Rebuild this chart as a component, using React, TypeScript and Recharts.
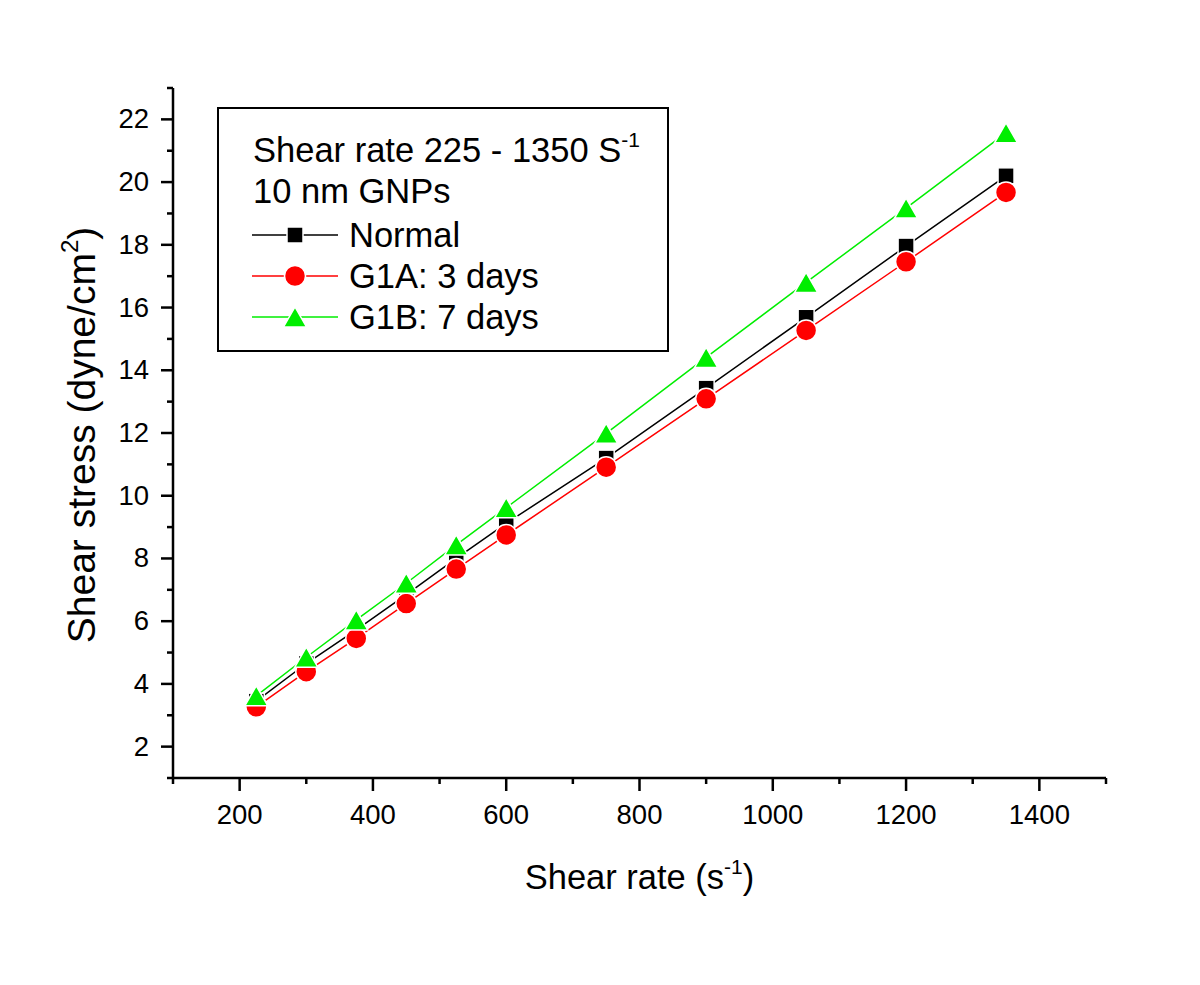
import { CartesianGrid, Customized, Line, LineChart, XAxis, YAxis } from 'recharts'

const shearRate = [225, 300, 375, 450, 525, 600, 750, 900, 1050, 1200, 1350]
const normal = [3.45, 4.65, 5.72, 6.85, 8.0, 9.12, 11.2, 13.43, 15.69, 17.96, 20.2]
const g1a = [3.27, 4.39, 5.45, 6.56, 7.66, 8.75, 10.91, 13.09, 15.27, 17.46, 19.67]
const g1b = [3.62, 4.85, 6.04, 7.21, 8.43, 9.62, 11.99, 14.41, 16.8, 19.17, 21.57]

const xTicks = [100, 200, 300, 400, 500, 600, 700, 800, 900, 1000, 1100, 1200, 1300, 1400, 1500]
const yTicks = [1, 2, 3, 4, 5, 6, 7, 8, 9, 10, 11, 12, 13, 14, 15, 16, 17, 18, 19, 20, 21, 22, 23]

const data = shearRate.map((rate, i) => ({
  rate,
  normal: normal[i],
  g1a: g1a[i],
  g1b: g1b[i],
}))

const FONT = '"Liberation Sans", Arial, sans-serif'
const W = 1200
const H = 985
const margin = { top: 88, right: 94, bottom: 147, left: 93 }
const Y_AXIS_W = 80
const X_AXIS_H = 60
const PLOT_LEFT = margin.left + Y_AXIS_W
const PLOT_BOTTOM = H - margin.bottom - X_AXIS_H

const BLACK = '#000000'
const RED = '#ff0000'
const GREEN = '#00ee00'

function Square({ cx, cy, size = 16, fill }: any) {
  return (
    <rect x={cx - size / 2} y={cy - size / 2} width={size} height={size} fill={fill} stroke="#fff" strokeWidth={1.5} />
  )
}

function Circle({ cx, cy, r = 10.5, fill }: any) {
  return <circle cx={cx} cy={cy} r={r} fill={fill} stroke="#fff" strokeWidth={1.5} />
}

function Triangle({ cx, cy, w = 23, h = 20, fill }: any) {
  const pts = `${cx},${cy - h / 2} ${cx + w / 2},${cy + h / 2} ${cx - w / 2},${cy + h / 2}`
  return <polygon points={pts} fill={fill} stroke="#fff" strokeWidth={1.5} />
}

const squareDot = (p: any) => <Square key={`sq-${p.index}`} cx={p.cx} cy={p.cy} fill={BLACK} />
const circleDot = (p: any) => <Circle key={`ci-${p.index}`} cx={p.cx} cy={p.cy} fill={RED} />
const triangleDot = (p: any) => <Triangle key={`tr-${p.index}`} cx={p.cx} cy={p.cy} fill={GREEN} />

function XTick({ x, payload }: any) {
  const major = payload.value % 200 === 0
  return (
    <g>
      <line x1={x} x2={x} y1={PLOT_BOTTOM} y2={PLOT_BOTTOM + (major ? 13 : 6)} stroke="#000" strokeWidth={2.5} />
      {major && (
        <text x={x} y={PLOT_BOTTOM + 46} textAnchor="middle" fontSize={27.5} fontFamily={FONT} fill="#000">
          {payload.value}
        </text>
      )}
    </g>
  )
}

function YTick({ y, payload }: any) {
  const major = payload.value % 2 === 0
  return (
    <g>
      <line x1={PLOT_LEFT} x2={PLOT_LEFT - (major ? 12 : 6)} y1={y} y2={y} stroke="#000" strokeWidth={2.5} />
      {major && (
        <text x={PLOT_LEFT - 24} y={y + 9} textAnchor="end" fontSize={27.5} fontFamily={FONT} fill="#000">
          {payload.value}
        </text>
      )}
    </g>
  )
}

const legendRows = [
  { label: 'Normal', color: BLACK, Marker: Square },
  { label: 'G1A: 3 days', color: RED, Marker: Circle },
  { label: 'G1B: 7 days', color: GREEN, Marker: Triangle },
]

function Annotations() {
  const bx = 218
  const by = 108
  return (
    <g fontFamily={FONT} fill="#000">
      {/* axis titles */}
      <text x={(PLOT_LEFT + W - margin.right) / 2} y={889} textAnchor="middle" fontSize={34.5}>
        Shear rate (s
        <tspan fontSize={21} dy={-15}>-1</tspan>
        <tspan dy={15}>)</tspan>
      </text>
      <text transform="rotate(-90)" x={-435} y={95} textAnchor="middle" fontSize={39}>
        Shear stress (dyne/cm
        <tspan fontSize={24} dy={-17}>2</tspan>
        <tspan dy={17}>)</tspan>
      </text>

      {/* legend box */}
      <rect x={bx} y={by} width={450} height={243} fill="#fff" stroke="#000" strokeWidth={2} />
      <text x={253} y={162} fontSize={34.5}>
        Shear rate 225 - 1350 S
        <tspan fontSize={21} dy={-15}>-1</tspan>
      </text>
      <text x={253} y={203} fontSize={34.5}>
        10 nm GNPs
      </text>
      {legendRows.map(({ label, color, Marker }, i) => {
        const cy = 235 + i * 41
        return (
          <g key={label}>
            <line x1={252} x2={338} y1={cy} y2={cy} stroke={color} strokeWidth={1.5} />
            <Marker cx={295} cy={cy} fill={color} />
            <text x={349} y={cy + 12} fontSize={34.5}>
              {label}
            </text>
          </g>
        )
      })}
    </g>
  )
}

export default function App() {
  return (
    <div style={{ position: 'absolute', left: 0, top: 0, width: W, height: H, background: '#fff' }}>
      <LineChart width={W} height={H} data={data} margin={margin}>
        <CartesianGrid stroke="none" />
        <XAxis
          type="number"
          dataKey="rate"
          domain={[100, 1500]}
          ticks={xTicks}
          interval={0}
          height={X_AXIS_H}
          axisLine={{ stroke: '#000', strokeWidth: 2.5 }}
          tickLine={false}
          tick={<XTick />}
        />
        <YAxis
          type="number"
          domain={[1, 23]}
          ticks={yTicks}
          interval={0}
          width={Y_AXIS_W}
          axisLine={{ stroke: '#000', strokeWidth: 2.5 }}
          tickLine={false}
          tick={<YTick />}
        />
        <Line dataKey="normal" stroke={BLACK} strokeWidth={1.5} dot={squareDot} isAnimationActive={false} />
        <Line dataKey="g1a" stroke={RED} strokeWidth={1.5} dot={circleDot} isAnimationActive={false} />
        <Line dataKey="g1b" stroke={GREEN} strokeWidth={1.5} dot={triangleDot} isAnimationActive={false} />
        <Customized component={Annotations} />
      </LineChart>
    </div>
  )
}
